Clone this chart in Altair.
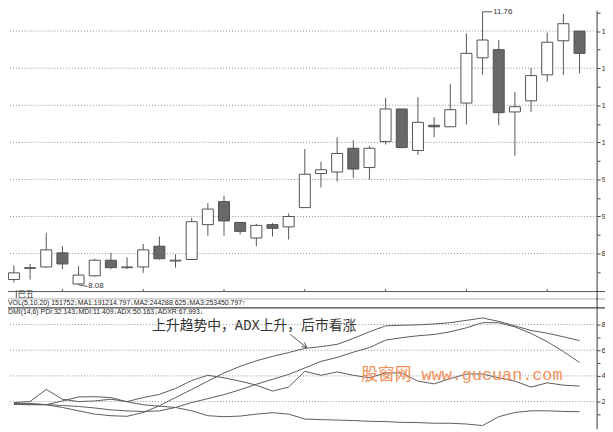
import altair as alt
import pandas as pd

# ---------------- data ----------------
idx = list(range(36))
opens = [8.15, 8.30, 8.32, 8.51, 8.09, 8.20, 8.41, 8.31, 8.32, 8.60, 8.40, 8.42,
         8.89, 9.20, 8.92, 8.71, 8.89, 8.86, 9.12, 9.58, 9.60, 9.92, 9.66, 10.01,
         10.45, 9.89, 10.23, 10.21, 10.53, 11.14, 11.25, 10.41, 10.56, 10.91, 11.37, 11.50]
highs = [8.34, 8.36, 8.78, 8.60, 8.33, 8.43, 8.51, 8.45, 8.63, 8.73, 8.49, 8.98,
         9.18, 9.28, 8.92, 8.90, 8.91, 9.04, 9.91, 9.74, 10.07, 10.03, 9.95, 10.60,
         10.45, 10.61, 10.34, 10.79, 11.47, 11.76, 11.38, 10.68, 11.00, 11.48, 11.73, 11.50]
lows = [8.11, 8.15, 8.31, 8.29, 8.08, 8.19, 8.29, 8.29, 8.24, 8.42, 8.31, 8.42,
        8.74, 8.74, 8.76, 8.60, 8.73, 8.69, 9.12, 9.39, 9.47, 9.52, 9.50, 9.97,
        9.92, 9.83, 10.07, 10.21, 10.24, 10.91, 10.23, 9.82, 10.41, 10.82, 10.91, 10.93]
closes = [8.24, 8.31, 8.55, 8.36, 8.21, 8.41, 8.31, 8.32, 8.55, 8.43, 8.41, 8.93,
          9.10, 8.94, 8.80, 8.88, 8.84, 9.00, 9.57, 9.63, 9.85, 9.64, 9.92, 10.45,
          9.93, 10.27, 10.21, 10.44, 11.20, 11.38, 10.40, 10.48, 10.90, 11.35, 11.60, 11.20]

pdi = [19.2, 20.0, 29.5, 21.8, 20.0, 20.5, 21.8, 20.0, 23.1, 25.6, 30.2, 36.4,
       40.5, 38.5, 35.9, 32.8, 28.2, 31.3, 43.6, 40.5, 43.1, 40.5, 38.5, 42.3,
       42.3, 35.9, 33.8, 37.9, 41.5, 41.5, 38.5, 35.9, 31.3, 34.6, 32.8, 32.1]
mdi = [17.9, 18.5, 17.5, 20.5, 23.6, 23.8, 23.1, 19.8, 17.5, 16.4, 15.4, 12.8,
       9.0, 8.2, 8.7, 10.2, 11.3, 10.2, 6.4, 5.9, 5.6, 5.2, 4.6, 4.4,
       3.8, 3.6, 3.1, 3.1, 2.5, 1.3, 8.2, 11.5, 12.8, 12.8, 12.3, 12.1]
adx = [17.9, 17.5, 17.5, 15.4, 12.8, 10.2, 9.0, 8.5, 11.5, 16.7, 23.1, 29.5,
       35.9, 42.3, 47.5, 51.8, 55.2, 58.2, 61.5, 62.8, 64.6, 69.2, 74.4, 79.0,
       79.5, 79.8, 80.5, 81.5, 83.3, 85.2, 82.5, 79.0, 75.4, 73.3, 70.5, 67.5]
adxr = [18.5, 18.1, 17.7, 16.9, 16.2, 15.0, 13.5, 12.7, 12.3, 12.7, 15.4, 19.2,
        22.3, 25.4, 29.2, 33.5, 37.3, 41.2, 46.2, 51.3, 54.4, 58.5, 62.1, 67.9,
        69.8, 71.3, 72.3, 74.4, 77.5, 81.5, 81.5, 78.2, 73.1, 66.7, 59.0, 50.5]

price_grid = [8.5, 9.0, 9.5, 10.0, 10.5, 11.0, 11.5]
price_ticks = [8.25, 8.5, 8.75, 9.0, 9.25, 9.5, 9.75, 10.0, 10.25, 10.5,
               10.75, 11.0, 11.25, 11.5, 11.75]
dmi_grid = [20, 40, 60, 80]
dmi_ticks = [10, 20, 30, 40, 50, 60, 70, 80]
date_ticks = [3, 8, 13, 18, 23, 28, 33]

vol_text = "VOL(5,10,20) 151752\u2193MA1:191214.797\u2193MA2:244288.625\u2193MA3:253450.797\u2191"
dmi_text = "DMI(14,6) PDI:32.143\u2193MDI:11.409\u2193ADX:50.163\u2193ADXR:67.993\u2193"
note_text = "上升趋势中，ADX上升，后市看涨"
mark_text = "股窗网 www.gucuan.com"
panel_tab = "巴丑"

# ---------------- tables ----------------
candles = pd.DataFrame({"i": idx, "open": opens, "high": highs,
                        "low": lows, "close": closes})
candles["kind"] = ["up" if c >= o else "down" for o, c in zip(opens, closes)]

hi_i = int(candles["high"].idxmax())
lo_i = int(candles["low"].idxmin())
hi_df = pd.DataFrame({"i": [hi_i], "p": [highs[hi_i]], "t": [f"{highs[hi_i]:.2f}"]})
lo_df = pd.DataFrame({"i": [lo_i], "p": [lows[lo_i]], "t": [f"{lows[lo_i]:.2f}"]})

dmi = pd.DataFrame({"i": idx, "PDI": pdi, "MDI": mdi, "ADX": adx, "ADXR": adxr})
dmi_long = dmi.melt(id_vars="i", var_name="s", value_name="v")

# ---------------- scales & axes ----------------
W, H = 597, 424
xs = alt.Scale(domain=[0, 35], range=[6, 579.2], nice=False, zero=False)
ps = alt.Scale(domain=[8.0, 12.0], range=[283.6, -17.0], nice=False, zero=False)
ds = alt.Scale(domain=[0, 100], range=[422, 292], nice=False, zero=False)

GRID = "#8e8e8e"
INK = "#505050"

price_label_expr = ("(datum.value * 2) % 1 == 0 ? (datum.value < 10 ? '\u2007' : '') + "
                    "format(datum.value, '.2f') : ''")
p_axis = alt.Axis(
    orient="right", values=price_ticks, title=None, grid=False, domain=False,
    tickSize=3, tickColor="#444444", labelPadding=1, labelFontSize=8,
    labelColor="#333333", labelFont="Liberation Sans", labelAlign="left",
    labelBaseline="middle", labelExpr=price_label_expr)
d_axis = alt.Axis(
    orient="right", values=dmi_ticks, title=None, grid=False, domain=False,
    tickSize=3, tickColor="#444444", labelPadding=1, labelFontSize=8,
    labelColor="#333333", labelFont="Liberation Sans", labelAlign="left",
    labelBaseline="middle",
    labelExpr="datum.value % 20 == 0 ? format(datum.value, 'd') : ''")

# ---------------- top (price) panel ----------------
base_c = alt.Chart(candles)
wicks = base_c.mark_rule(color="#555555", strokeWidth=1).encode(
    x=alt.X("i:Q", scale=xs, axis=None),
    y=alt.Y("low:Q", scale=ps, axis=p_axis),
    y2="high:Q",
)
bodies = base_c.transform_calculate(
    xl="datum.i - 0.34", xr="datum.i + 0.34"
).mark_rect(stroke=INK, strokeWidth=1).encode(
    x=alt.X("xl:Q", scale=xs, axis=None),
    x2="xr:Q",
    y=alt.Y("open:Q", scale=ps, axis=p_axis),
    y2="close:Q",
    fill=alt.Fill("kind:N", scale=alt.Scale(domain=["up", "down"],
                                            range=["#ffffff", "#686868"]),
                  legend=None),
)
pgrid = alt.Chart(pd.DataFrame({"p": price_grid})).mark_rule(
    color=GRID, strokeDash=[1, 2], strokeWidth=1
).encode(y=alt.Y("p:Q", scale=ps, axis=p_axis))

hi_lead = alt.Chart(hi_df).transform_calculate(i2="datum.i + 0.6").mark_rule(
    color="#555555", strokeWidth=1).encode(
    x=alt.X("i:Q", scale=xs, axis=None), x2="i2:Q",
    y=alt.Y("p:Q", scale=ps, axis=p_axis))
hi_lab = alt.Chart(hi_df).transform_calculate(ix="datum.i + 0.66").mark_text(
    align="left", baseline="middle", fontSize=8, font="Liberation Sans",
    color="#333333").encode(
    x=alt.X("ix:Q", scale=xs, axis=None),
    y=alt.Y("p:Q", scale=ps, axis=p_axis), text="t:N")
lo_lead = alt.Chart(lo_df).transform_calculate(
    i2="datum.i + 0.55", p2="datum.p - 0.023").mark_rule(
    color="#555555", strokeWidth=1).encode(
    x=alt.X("i:Q", scale=xs, axis=None), x2="i2:Q",
    y=alt.Y("p:Q", scale=ps, axis=p_axis), y2="p2:Q")
lo_lab = alt.Chart(lo_df).transform_calculate(
    ix="datum.i + 0.6", p2="datum.p - 0.023").mark_text(
    align="left", baseline="middle", fontSize=8, font="Liberation Sans",
    color="#333333").encode(
    x=alt.X("ix:Q", scale=xs, axis=None),
    y=alt.Y("p2:Q", scale=ps, axis=p_axis), text="t:N")

top = alt.layer(pgrid, wicks, bodies, hi_lead, hi_lab, lo_lead, lo_lab)

# ---------------- bottom (DMI) panel ----------------
dgrid = alt.Chart(pd.DataFrame({"g": dmi_grid})).mark_rule(
    color=GRID, strokeDash=[1, 2], strokeWidth=1
).encode(y=alt.Y("g:Q", scale=ds, axis=d_axis))
dlines = alt.Chart(dmi_long).mark_line(color="#5a5a5a", strokeWidth=1).encode(
    x=alt.X("i:Q", scale=xs, axis=None),
    y=alt.Y("v:Q", scale=ds, axis=d_axis),
    detail="s:N",
)
bottom = alt.layer(dgrid, dlines)

# ---------------- frame, strip and notes ----------------
one = pd.DataFrame({"a": [0]})


def hline(y, color, width=1.0):
    return alt.Chart(one).mark_rule(color=color, strokeWidth=width).encode(
        x=alt.value(0), x2=alt.value(605), y=alt.value(y))


def seg(x1, y1, x2, y2, color="#555555", width=1.0):
    return alt.Chart(one).mark_rule(color=color, strokeWidth=width).encode(
        x=alt.value(x1), y=alt.value(y1), x2=alt.value(x2), y2=alt.value(y2))


def label(t, x, y, size, font, color="#333333"):
    return alt.Chart(pd.DataFrame({"t": [t]})).mark_text(
        align="left", baseline="middle", fontSize=size, font=font, color=color
    ).encode(x=alt.value(x), y=alt.value(y), text="t:N")


vaxis = alt.Chart(one).mark_rule(color="#333333", strokeWidth=1).encode(
    x=alt.value(W), y=alt.value(0), y2=alt.value(H))
dticks = alt.Chart(pd.DataFrame({"t": date_ticks})).mark_rule(
    color="#555555", strokeWidth=1).encode(
    x=alt.X("t:Q", scale=xs, axis=None), y=alt.value(282), y2=alt.value(284.5))

deco = [
    hline(284.5, "#555555", 1.0),
    hline(292, "#9a9a9a", 0.8),
    hline(301, "#444444", 1.3),
    vaxis,
    dticks,
    seg(8.4, 283, 8.4, 291),
    label(panel_tab, 10, 288, 8, "Noto Sans CJK SC"),
    label(vol_text, 0, 296.5, 7, "Liberation Sans", "#222222"),
    label(dmi_text, 0, 305.5, 7, "Liberation Sans", "#222222"),
    label(note_text, 146, 319.5, 14, "Liberation Mono, Noto Sans CJK SC"),
    seg(286.2, 328, 303, 341.5),
    seg(303, 341.5, 297.2, 340.1),
    seg(303, 341.5, 300.4, 336.1),
    label(mark_text, 358, 369, 17, "Liberation Mono, Noto Sans CJK SC", "#f0905a"),
]

chart = alt.layer(top, bottom, *deco).resolve_scale(y="independent").properties(
    width=W, height=H,
    autosize=alt.AutoSizeParams(type="none"),
    padding={"left": 0, "top": 0, "right": 8, "bottom": 0},
    background="white",
).configure_view(strokeWidth=0)

chart.save("out.html", embed_options={"renderer": "svg", "actions": False})
